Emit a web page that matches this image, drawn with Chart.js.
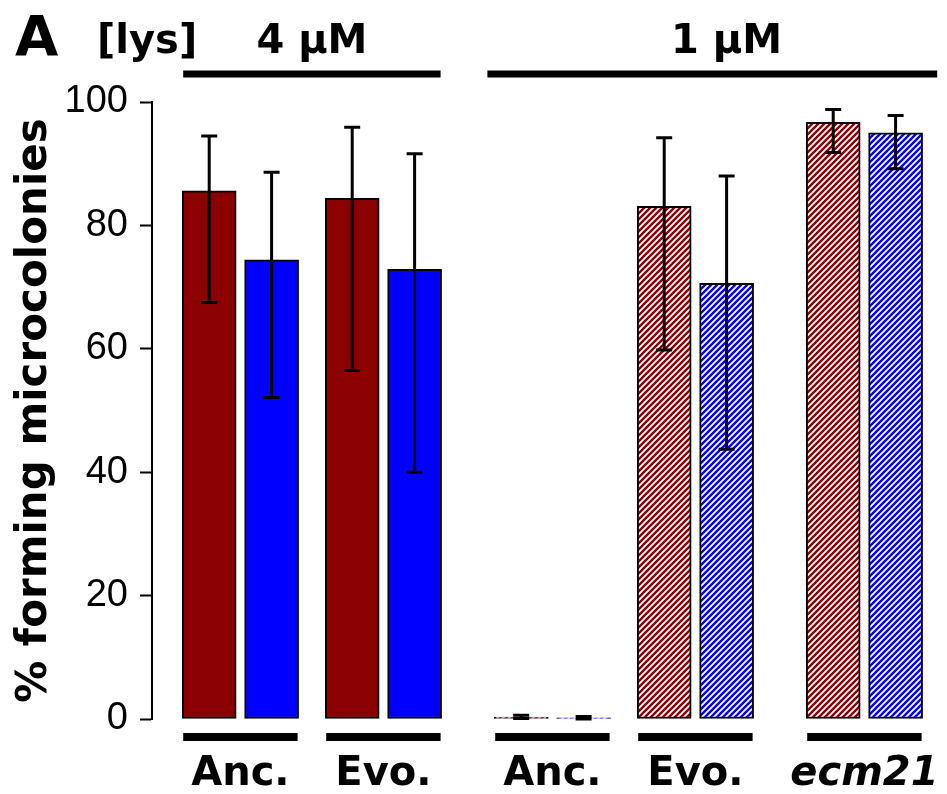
<!DOCTYPE html>
<html>
<head>
<meta charset="utf-8">
<script src="https://cdn.jsdelivr.net/npm/chart.js@4.4.1/dist/chart.umd.min.js"></script>
<style>
  html, body { margin: 0; padding: 0; background: #fff; }
</style>
</head>
<body>
<canvas id="microChart" width="947" height="794"></canvas>
<script>
// values
var strains = ['Anc.', 'Evo.', 'Anc.', 'Evo.', 'ecm21'];
var lysLevels = ['4 µM', '1 µM'];
var redMean  = [85.6, 84.4, 0.3, 83.1, 96.7];
var redLow   = [67.5, 56.5, 0.1, 59.8, 91.8];
var redHigh  = [94.5, 95.9, 0.6, 94.2, 98.8];
var blueMean = [74.4, 72.9, 0.2, 70.6, 95.0];
var blueLow  = [52.1, 40.0, 0.0, 43.7, 89.2];
var blueHigh = [88.6, 91.6, 0.4, 88.0, 97.8];
var yTicks = [0, 20, 40, 60, 80, 100];

// barplot-like spacing (in bar widths) before each pair, 0.2 inside a pair
var groupSpace = [0.6, 0.55, 1.05, 0.55, 1.05];
var hatched = [false, false, true, true, true];

var redX = [], blueX = [];
var pos = 0;
for (var i = 0; i < strains.length; i++) {
  pos += groupSpace[i];
  redX.push(pos + 0.5);
  pos += 1.2;
  blueX.push(pos + 0.5);
  pos += 1;
}

function hatch(color) {
  var c = document.createElement('canvas');
  c.width = 6; c.height = 6;
  var g = c.getContext('2d');
  g.fillStyle = '#fff';
  g.fillRect(0, 0, 6, 6);
  g.strokeStyle = color;
  g.lineWidth = 2.4;
  g.beginPath();
  g.moveTo(0, 6); g.lineTo(6, 0);
  g.moveTo(-1, 1); g.lineTo(1, -1);
  g.moveTo(5, 7); g.lineTo(7, 5);
  g.stroke();
  return g.createPattern(c, 'repeat');
}

var RED = '#8b0000', BLUE = '#0000ff';
var redHatch = hatch(RED), blueHatch = hatch(BLUE);

var labelFont = 'bold 40px "DejaVu Sans"';

var extras = {
  id: 'extras',
  afterDatasetsDraw: function(chart) {
    var ctx = chart.ctx, xs = chart.scales.x, ys = chart.scales.y;
    ctx.save();
    ctx.strokeStyle = '#000';
    ctx.lineWidth = 3;
    function bar(x, lo, hi) {
      var px = xs.getPixelForValue(x), a = ys.getPixelForValue(lo), b = ys.getPixelForValue(hi);
      ctx.beginPath();
      ctx.moveTo(px, a); ctx.lineTo(px, b);
      ctx.moveTo(px - 8, a); ctx.lineTo(px + 8, a);
      ctx.moveTo(px - 8, b); ctx.lineTo(px + 8, b);
      ctx.stroke();
    }
    for (var i = 0; i < strains.length; i++) {
      bar(redX[i], redLow[i], redHigh[i]);
      bar(blueX[i], blueLow[i], blueHigh[i]);
    }
    ctx.restore();
  },
  afterDraw: function(chart) {
    var ctx = chart.ctx, xs = chart.scales.x;
    ctx.save();
    ctx.fillStyle = '#000';
    ctx.strokeStyle = '#000';

    // bottom strain bars + labels
    ctx.lineWidth = 8;
    ctx.textAlign = 'center';
    ctx.textBaseline = 'alphabetic';
    for (var i = 0; i < strains.length; i++) {
      var l = xs.getPixelForValue(redX[i] - 0.5), r = xs.getPixelForValue(blueX[i] + 0.5);
      ctx.beginPath();
      ctx.moveTo(l, 737); ctx.lineTo(r, 737);
      ctx.stroke();
      ctx.font = strains[i] === 'ecm21' ? 'italic ' + labelFont : labelFont;
      ctx.fillText(strains[i], (l + r) / 2, 785);
    }

    // top lysine lines + labels
    ctx.lineWidth = 7;
    var a1 = xs.getPixelForValue(redX[0] - 0.5), b1 = xs.getPixelForValue(blueX[1] + 0.5);
    var a2 = xs.getPixelForValue(redX[2] - 0.65), b2 = xs.getPixelForValue(blueX[4] + 0.8);
    ctx.beginPath();
    ctx.moveTo(a1, 74); ctx.lineTo(b1, 74);
    ctx.moveTo(a2, 74); ctx.lineTo(b2, 74);
    ctx.stroke();
    ctx.font = labelFont;
    ctx.fillText(lysLevels[0], (a1 + b1) / 2, 53);
    ctx.fillText(lysLevels[1], xs.getPixelForValue(blueX[3]), 53);
    ctx.textAlign = 'left';
    ctx.fillText('[lys]', 97, 53);
    ctx.font = 'bold 56px "DejaVu Sans"';
    ctx.fillText('A', 15, 55);
    ctx.restore();
  }
};

function barSet(means, xsArr, solid, pattern) {
  return {
    data: means.map(function(v, i) { return { x: xsArr[i], y: v }; }),
    backgroundColor: hatched.map(function(h) { return h ? pattern : solid; }),
    borderColor: '#000',
    borderWidth: 2,
    borderSkipped: false,
    barThickness: 54,
    grouped: false
  };
}

new Chart(document.getElementById('microChart').getContext('2d'), {
  type: 'bar',
  data: {
    datasets: [
      barSet(redMean, redX, RED, redHatch),
      barSet(blueMean, blueX, BLUE, blueHatch)
    ]
  },
  options: {
    responsive: false,
    animation: false,
    layout: { padding: { left: 0, right: 15, top: 102, bottom: 75 } },
    plugins: { legend: { display: false }, tooltip: { enabled: false } },
    scales: {
      x: { type: 'linear', min: 0, max: 15, offset: false, display: false },
      y: {
        min: 0, max: 100,
        afterBuildTicks: function(s) { s.ticks = yTicks.map(function(v) { return { value: v }; }); },
        afterFit: function(s) { s.width = 152; },
        ticks: { color: '#000', padding: 12, font: { family: '"Liberation Sans"', size: 38 } },
        grid: { drawOnChartArea: false, drawTicks: true, tickLength: 12, tickWidth: 2, color: '#000' },
        border: { display: true, color: '#000', width: 2 },
        title: {
          display: true,
          text: '% forming microcolonies',
          color: '#000',
          padding: { top: 10 },
          font: { family: '"DejaVu Sans"', size: 42, weight: 'bold' }
        }
      }
    }
  },
  plugins: [extras]
});
</script>
</body>
</html>
